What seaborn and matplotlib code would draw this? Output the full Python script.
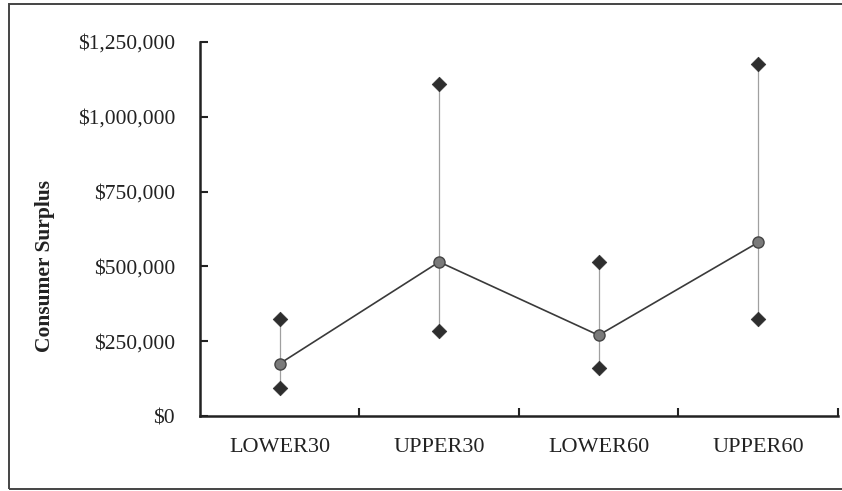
import numpy as np
import pandas as pd
import seaborn as sns
import matplotlib.pyplot as plt
from matplotlib.patches import Rectangle

# values
categories = ['LOWER30', 'UPPER30', 'LOWER60', 'UPPER60']
low_vals = [95000, 285000, 160000, 325000]
mean_vals = [175000, 515000, 270000, 580000]
high_vals = [325000, 1110000, 515000, 1175000]
y_ticks = [0, 250000, 500000, 750000, 1000000, 1250000]
y_tick_labels = ['$0', '$250,000', '$500,000', '$750,000', '$1,000,000', '$1,250,000']

sns.set_theme(style='white')
plt.rcParams['font.family'] = ['Liberation Serif', 'DejaVu Serif']

df = pd.DataFrame({'cat': categories, 'low': low_vals, 'mean': mean_vals, 'high': high_vals})
ends = pd.concat([df[['cat', 'low']].rename(columns={'low': 'v'}),
                  df[['cat', 'high']].rename(columns={'high': 'v'})])

fig = plt.figure(figsize=(8.42, 4.91), dpi=100)
ax = fig.add_axes([0.2375, 0.1527, 0.7575, 0.7618])

pos = np.arange(len(categories))
ax.vlines(pos, df['low'], df['high'], color='#a0a0a0', linewidth=0.9, zorder=1)
sns.lineplot(x=pos, y=df['mean'], ax=ax, color='#3a3a3a', linewidth=1.2,
             marker='o', markersize=8, markerfacecolor='#7a7a7a',
             markeredgecolor='#444444', markeredgewidth=1.0, zorder=3)
sns.scatterplot(x=np.tile(pos, 2), y=ends['v'].values, ax=ax, marker='D', s=55,
                color='#2e2e2e', edgecolor='#2e2e2e', linewidth=0.5, zorder=4)

ax.set_xlim(-0.5, 3.5)
ax.set_ylim(0, 1250000)
ax.set_xticks(pos)
ax.set_xticklabels(categories, fontsize=16)
ax.set_xticks(pos + 0.5, minor=True)
ax.tick_params(axis='x', which='major', length=0, pad=16)
ax.tick_params(axis='x', which='minor', direction='in', length=6, width=1.5,
               color='#222222', bottom=True)
ax.set_yticks(y_ticks)
ax.set_yticklabels(y_tick_labels, fontsize=15.5)
ax.tick_params(axis='y', direction='in', length=6, width=1.5, color='#222222',
               left=True, pad=18)
ax.tick_params(colors='#222222', which='both')

ax.set_xlabel('')
ax.set_ylabel('Consumer Surplus', fontsize=15.5, fontweight='bold', color='#222222')
ax.yaxis.set_label_coords(-0.228, 0.40)

for s in ['top', 'right']:
    ax.spines[s].set_visible(False)
for s in ['left', 'bottom']:
    ax.spines[s].set_linewidth(1.8)
    ax.spines[s].set_color('#222222')

# outer frame around the figure
fig.patches.append(Rectangle((9 / 842, 2 / 491), 1.0, 1 - 6 / 491,
                             transform=fig.transFigure, fill=False,
                             edgecolor='#444444', linewidth=1.4))

fig.savefig('out.png', dpi=100)
